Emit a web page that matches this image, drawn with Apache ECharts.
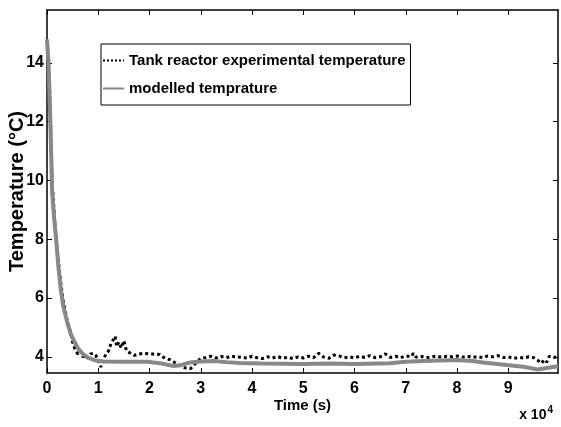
<!DOCTYPE html>
<html>
<head>
<meta charset="utf-8">
<script src="https://cdn.jsdelivr.net/npm/echarts@6/dist/echarts.min.js"></script>
<style>
html,body{margin:0;padding:0;background:#fff;}
#chart{width:561px;height:427px;}
</style>
</head>
<body>
<div id="chart"></div>
<script>
// Time in units of 10^4 s, temperature in °C
var xTicks = [0,1,2,3,4,5,6,7,8,9];
var yTicks = [4,6,8,10,12,14];

var experimental = [
[0,14.7],[0.05,13.2],[0.1,10.0],[0.15,8.6],[0.2,7.6],[0.25,6.8],[0.3,6.1],[0.35,5.6],[0.4,5.2],[0.45,4.9],
[0.5,4.5],[0.55,4.25],[0.6,4.1],[0.65,4.2],[0.7,4.0],[0.75,4.05],[0.8,3.95],[0.85,4.1],[0.9,4.12],[0.95,4.05],
[1.0,3.9],[1.05,3.65],[1.1,3.9],[1.15,4.1],[1.2,4.2],[1.25,4.45],[1.3,4.6],[1.33,4.7],[1.36,4.35],[1.4,4.5],
[1.45,4.3],[1.5,4.55],[1.55,4.2],[1.6,4.15],[1.7,4.05],[1.8,4.1],[1.9,4.12],[2.0,4.1],[2.1,4.1],[2.2,4.08],
[2.3,3.95],[2.4,3.9],[2.5,3.8],[2.6,3.7],[2.7,3.62],[2.8,3.6],[2.9,3.78],[3.0,3.95],[3.1,3.98],[3.2,4.02],
[3.3,3.96],[3.4,4.01],[3.5,3.97],[3.6,4.03],[3.7,3.98],[3.8,4.0],[3.9,3.95],[4.0,4.02],[4.1,3.97],[4.2,3.94],
[4.3,4.0],[4.4,3.96],[4.5,4.01],[4.6,3.95],[4.7,3.99],[4.8,3.94],[4.9,4.0],[5.0,3.96],[5.1,4.02],[5.2,3.97],
[5.3,4.12],[5.4,3.99],[5.5,3.95],[5.6,4.06],[5.7,4.03],[5.8,3.97],[5.9,4.0],[6.0,3.96],[6.1,4.02],[6.2,3.98],
[6.3,4.04],[6.4,3.97],[6.5,4.0],[6.6,4.1],[6.7,3.98],[6.8,4.02],[6.9,3.97],[7.0,4.03],[7.1,4.0],[7.15,4.12],
[7.2,3.99],[7.3,4.01],[7.4,3.97],[7.5,4.0],[7.6,4.03],[7.7,3.98],[7.8,4.02],[7.9,4.0],[8.0,4.03],[8.1,3.99],
[8.2,4.02],[8.3,3.98],[8.4,4.01],[8.5,3.97],[8.6,4.03],[8.7,4.0],[8.8,4.04],[8.9,3.98],[9.0,4.0],[9.1,3.95],
[9.2,3.98],[9.3,3.96],[9.4,4.0],[9.5,3.97],[9.6,3.85],[9.65,3.78],[9.7,3.9],[9.75,3.82],[9.8,4.02],[9.9,3.98],
[9.97,4.02]
];

var modelled = [
[0,14.8],[0.03,14.0],[0.065,12.0],[0.1,9.6],[0.14,8.7],[0.18,7.97],[0.22,7.1],[0.27,6.27],[0.32,5.7],[0.4,5.14],
[0.46,4.8],[0.52,4.57],[0.6,4.3],[0.71,4.08],[0.8,3.97],[0.94,3.88],[1.1,3.84],[1.5,3.83],[1.95,3.83],[2.21,3.78],
[2.47,3.69],[2.6,3.71],[2.79,3.81],[3.0,3.84],[3.25,3.86],[3.5,3.82],[3.77,3.79],[4.2,3.77],[5.0,3.76],[5.5,3.77],
[6.0,3.76],[6.69,3.78],[7.0,3.83],[7.34,3.86],[7.99,3.89],[8.3,3.86],[8.51,3.81],[8.97,3.72],[9.29,3.66],[9.58,3.57],
[9.75,3.62],[9.97,3.68]
];

var SANS = '"Liberation Sans",Arial,sans-serif';

var chart = echarts.init(document.getElementById('chart'), null, {renderer:'canvas'});

var axisLineStyle = {color:'#000', width:1.5};
var option = {
  animation:false,
  backgroundColor:'#fff',
  grid:{left:47, right:3, top:10, bottom:54, containLabel:false, outerBoundsMode:'none'},
  legend:{
    orient:'vertical', left:101, top:44,
    padding:[7,5,7,1], itemGap:9,
    itemWidth:21, itemHeight:14,
    backgroundColor:'#fff', borderColor:'#000', borderWidth:1, borderRadius:0,
    itemStyle:{opacity:0},
    textStyle:{fontFamily:SANS, fontWeight:'bold', fontSize:15, color:'#000', lineHeight:19},
    data:['Tank reactor experimental temperature','modelled temprature']
  },
  xAxis:[{
    type:'value', min:0, max:9.97, position:'bottom',
    name:'Time (s)', nameLocation:'middle', nameGap:25, nameMoveOverlap:false,
    nameTextStyle:{fontFamily:SANS, fontWeight:'bold', fontSize:15, color:'#000', verticalAlign:'top'},
    axisLine:{show:true, onZero:false, lineStyle:axisLineStyle},
    axisTick:{show:true, inside:true, length:5, customValues:xTicks, lineStyle:{color:'#000', width:1}},
    axisLabel:{customValues:xTicks, fontFamily:SANS, fontWeight:'bold', fontSize:16, color:'#000', margin:8},
    splitLine:{show:false}
  },{
    type:'value', min:0, max:9.97, position:'top',
    axisLine:{show:true, onZero:false, lineStyle:axisLineStyle},
    axisTick:{show:true, inside:true, length:5, customValues:xTicks, lineStyle:{color:'#000', width:1}},
    axisLabel:{show:false},
    splitLine:{show:false}
  }],
  yAxis:[{
    type:'value', min:3.45, max:15.8, position:'left',
    name:'Temperature (°C)', nameLocation:'middle', nameGap:20, nameRotate:90, nameMoveOverlap:false,
    nameTextStyle:{fontFamily:SANS, fontWeight:'bold', fontSize:20, color:'#000'},
    axisLine:{show:true, onZero:false, lineStyle:axisLineStyle},
    axisTick:{show:true, inside:true, length:5, customValues:yTicks, lineStyle:{color:'#000', width:1}},
    axisLabel:{customValues:yTicks, fontFamily:SANS, fontWeight:'bold', fontSize:16, color:'#000', margin:3},
    splitLine:{show:false}
  },{
    type:'value', min:3.45, max:15.8, position:'right',
    axisLine:{show:true, onZero:false, lineStyle:axisLineStyle},
    axisTick:{show:true, inside:true, length:5, customValues:yTicks, lineStyle:{color:'#000', width:1}},
    axisLabel:{show:false},
    splitLine:{show:false}
  }],
  graphic:[{
    type:'text', right:8, bottom:5,
    style:{
      text:'x 10{sup|4}',
      fontFamily:SANS, fontWeight:'bold', fontSize:14, fill:'#000',
      rich:{sup:{fontFamily:SANS, fontWeight:'bold', fontSize:10, verticalAlign:'top', padding:[0,0,10,1]}}
    }
  }],
  series:[{
    name:'Tank reactor experimental temperature',
    type:'line', xAxisIndex:0, yAxisIndex:0,
    data:experimental, showSymbol:false, symbol:'none',
    lineStyle:{color:'#000', width:3, type:'dotted'},
    itemStyle:{color:'#000'}
  },{
    name:'modelled temprature',
    type:'line', xAxisIndex:0, yAxisIndex:0,
    data:modelled, showSymbol:false, symbol:'none',
    lineStyle:{color:'#888888', width:4},
    itemStyle:{color:'#888888'}
  }]
};
chart.setOption(option);
</script>
</body>
</html>
